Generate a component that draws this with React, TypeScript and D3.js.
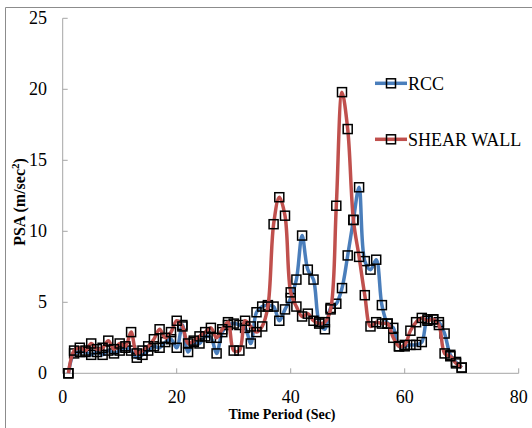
import React from "react";
import * as d3 from "d3";

const timePeriod = Array.from({ length: 70 }, (_, i) => i + 1);

const rccValues = [
  0, 1.4, 1.5, 1.5, 1.3, 1.5, 1.3, 1.6, 1.4, 1.6,
  1.8, 1.6, 1.1, 1.3, 1.6, 1.9, 1.8, 2.2, 2.4, 1.8,
  3.4, 1.5, 2.2, 2.1, 2.6, 2.5, 1.4, 2.9, 3.4, 3.5,
  3.4, 3.2, 2.1, 4.3, 4.7, 4.8, 4.7, 3.7, 4.5, 5.3,
  6.6, 9.7, 7.3, 6.6, 3.6, 3.1, 4.6, 4.9, 6.0, 8.3,
  10.8, 13.1, 7.9, 7.3, 8.0, 4.8, 3.5, 3.2, 1.9, 1.9,
  2.0, 2.0, 2.2, 3.8, 3.8, 3.6, 2.8, 1.3, 0.8, 0.4,
];

const shearWallValues = [
  0, 1.6, 1.8, 1.6, 2.1, 1.7, 1.8, 2.3, 1.7, 2.1,
  1.9, 2.9, 1.4, 1.6, 1.9, 2.4, 3.1, 2.5, 2.9, 3.7,
  3.3, 2.1, 2.3, 2.6, 2.9, 3.2, 2.5, 3.1, 3.6, 1.6,
  1.6, 3.7, 3.3, 2.9, 3.3, 4.7, 10.5, 12.4, 11.1, 5.7,
  4.7, 4.0, 4.2, 3.7, 3.5, 3.6, 4.5, 11.8, 19.8, 17.2,
  10.8, 8.2, 5.5, 3.3, 3.6, 3.5, 3.5, 2.5, 1.9, 2.0,
  3.0, 3.6, 3.9, 3.7, 3.8, 3.4, 1.4, 1.2, 0.7, 0.4,
];

const xTicks = [0, 20, 40, 60, 80];
const yTicks = [0, 5, 10, 15, 20, 25];

const seriesNames = ["RCC", "SHEAR WALL"];
const seriesColors = ["#4a7ebb", "#c0504d"];

const W = 532;
const H = 428;
const plot = { left: 62.7, right: 518.7, top: 18.3, bottom: 373.3 };
const FONT = "Liberation Serif, Times New Roman, serif";
const AXIS = "#a6a6a6";

export default function App() {
  const x = d3.scaleLinear().domain([0, 80]).range([plot.left, plot.right]);
  const y = d3.scaleLinear().domain([0, 25]).range([plot.bottom, plot.top]);

  const line = d3
    .line<[number, number]>()
    .x((d) => x(d[0]))
    .y((d) => y(d[1]))
    .curve(d3.curveCatmullRom.alpha(0.5));

  const series = [rccValues, shearWallValues].map((vals) =>
    timePeriod.map((t, i) => [t, vals[i]] as [number, number])
  );

  const ms = 9;
  const legendY = [83.3, 139.3];

  return (
    <div style={{ position: "absolute", left: 0, top: 0 }}>
      <svg width={W} height={H} style={{ display: "block", background: "#fff" }}>
        <line x1={5.5} y1={7.5} x2={5.5} y2={H} stroke="#8c8c8c" strokeWidth={1} />
        <line x1={5.5} y1={7.5} x2={W} y2={7.5} stroke="#8c8c8c" strokeWidth={1} />

        <line x1={plot.left} y1={y(25)} x2={plot.left} y2={plot.bottom} stroke={AXIS} strokeWidth={1} />
        <line x1={plot.left} y1={plot.bottom} x2={plot.right} y2={plot.bottom} stroke={AXIS} strokeWidth={1} />
        {yTicks.map((t) => (
          <g key={"y" + t}>
            <line x1={plot.left} x2={plot.left + 5} y1={y(t)} y2={y(t)} stroke={AXIS} />
            <text x={47} y={y(t) + 6} textAnchor="end" fontFamily={FONT} fontSize={18} fill="#000">
              {t}
            </text>
          </g>
        ))}
        {xTicks.map((t) => (
          <g key={"x" + t}>
            <line x1={x(t)} x2={x(t)} y1={plot.bottom} y2={plot.bottom - 5} stroke={AXIS} />
            <text x={x(t)} y={403} textAnchor="middle" fontFamily={FONT} fontSize={18} fill="#000">
              {t}
            </text>
          </g>
        ))}

        <text x={282} y={419} textAnchor="middle" fontFamily={FONT} fontSize={14} fontWeight="bold" fill="#000">
          Time Period (Sec)
        </text>
        <text
          transform={`translate(25, 202) rotate(-90)`}
          textAnchor="middle"
          fontFamily={FONT}
          fontSize={16}
          fontWeight="bold"
          fill="#000"
        >
          PSA (m/sec
          <tspan dy={-6} fontSize={11}>2</tspan>
          <tspan dy={6}>)</tspan>
        </text>

        {series.map((pts, si) => (
          <g key={"s" + si}>
            <path d={line(pts) || ""} fill="none" stroke={seriesColors[si]} strokeWidth={3.5} strokeLinejoin="round" />
            {pts.map((p, i) => (
              <rect
                key={i}
                x={x(p[0]) - ms / 2}
                y={y(p[1]) - ms / 2}
                width={ms}
                height={ms}
                fill="none"
                stroke="#000"
                strokeWidth={1.5}
              />
            ))}
          </g>
        ))}

        {seriesNames.map((name, i) => (
          <g key={"l" + i}>
            <line x1={375} x2={407} y1={legendY[i]} y2={legendY[i]} stroke={seriesColors[i]} strokeWidth={3.5} />
            <rect x={391 - ms / 2} y={legendY[i] - ms / 2} width={ms} height={ms} fill="none" stroke="#000" strokeWidth={1.5} />
            <text x={408} y={legendY[i] + 6.5} fontFamily={FONT} fontSize={18} fill="#000">
              {name}
            </text>
          </g>
        ))}
      </svg>
    </div>
  );
}
